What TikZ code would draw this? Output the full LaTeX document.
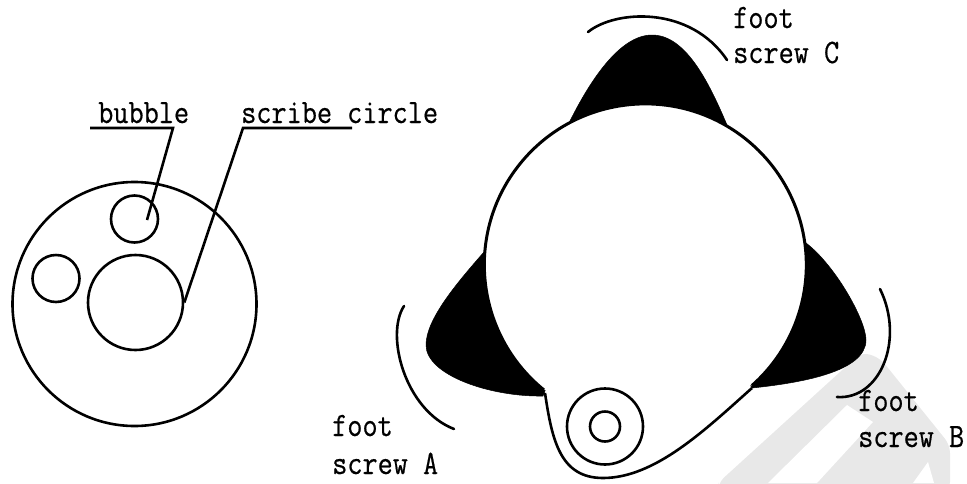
\documentclass[tikz,border=0pt]{standalone}
\usepackage{fontspec}
\setmonofont[FakeStretch=0.86,FakeBold=0.5]{Latin Modern Mono}
\usetikzlibrary{calc}
\definecolor{markgray}{gray}{0.91}
\tikzset{
  lbl/.style={anchor=base west,inner sep=0pt,font=\ttfamily\fontsize{34.2}{35}\selectfont},
  ring/.style={circle,draw,line width=2.6pt,inner sep=0pt},
  leader/.style={line width=2.6pt},
  bracket/.style={line width=2.6pt,line cap=round},
  blob/.style={fill=black,draw=black,line width=0.5pt}
}
\begin{document}
\begin{tikzpicture}[x=1pt,y=-1pt]
  \useasboundingbox (0,0) rectangle (967,483);

  % faint mark behind
  \fill[markgray,rounded corners=8pt] (718,483) -- (862,352) -- (880,358) -- (950,445) -- (950,490) -- (718,490) -- cycle;
  \fill[white] (768,483) -- (847,405) -- (873,422) -- (817,483) -- cycle;
  \fill[white] (913,483) -- (928,462) -- (934,483) -- cycle;

  % level vial
  \node[ring,minimum size=244pt] (vial) at (134.5,304) {};
  \node[ring,minimum size=47pt] (bubblecirc) at (134.5,219) {};
  \node[ring,minimum size=47pt] (sparecirc) at (56,278.5) {};
  \node[ring,minimum size=95pt] (scribecirc) at (135.5,302.5) {};
  \node[lbl] (bubble) at (98,123) {bubble};
  \node[lbl] (scribe) at (241,123) {scribe circle};
  \coordinate (bubbleA) at (90,128);
  \coordinate (bubbleB) at (173,128);
  \coordinate (bubbleC) at (147,220);
  \coordinate (scribeA) at (352,128);
  \coordinate (scribeB) at (243,128);
  \draw[leader] (bubbleA) -- (bubbleB) -- (bubbleC);
  \draw[leader] (scribeA) -- (scribeB) -- (scribecirc.east);

  % screws
  \fill[blob] (568,125) .. controls (590,80) and (620,35) .. (652,35)
    .. controls (685,35) and (708,80) .. (727,125)
    .. controls (680,150) and (615,150) .. cycle;
  \fill[blob] (484,252) .. controls (455,285) and (426,320) .. (426,345)
    .. controls (426,375) and (490,397) .. (543,396)
    .. controls (560,360) and (520,300) .. cycle;
  \fill[blob] (806,243) .. controls (835,265) and (866,320) .. (866,340)
    .. controls (866,372) and (800,383) .. (752,388)
    .. controls (730,355) and (770,300) .. cycle;

  % base plate
  \filldraw[line width=3pt,fill=white] (544,390) arc[start angle=129,end angle=408.5,radius=161];
  \draw[line width=2.6pt,fill=white] (545,393) .. controls (552,440) and (560,478) .. (603,478)
    .. controls (655,478) and (705,430) .. (752,388);
  \node[ring,minimum size=76pt] (bulbout) at (605,426.5) {};
  \node[ring,minimum size=30pt] (bulbin) at (605,426.5) {};

  % brackets
  \draw[bracket] (588,32) .. controls (615,10) and (690,5) .. (727,60);
  \draw[bracket] (404,306) .. controls (385,335) and (405,410) .. (454,429);
  \draw[bracket] (880,289) .. controls (905,340) and (880,400) .. (837,397);

  \node[lbl] (footC) at (733,28) {foot};
  \node[lbl] (screwC) at (733,63) {screw C};
  \node[lbl] (footB) at (858,411) {foot};
  \node[lbl] (screwB) at (858,447) {screw B};
  \node[lbl] (footA) at (332,436) {foot};
  \node[lbl] (screwA) at (332,474) {screw A};
\end{tikzpicture}
\end{document}
